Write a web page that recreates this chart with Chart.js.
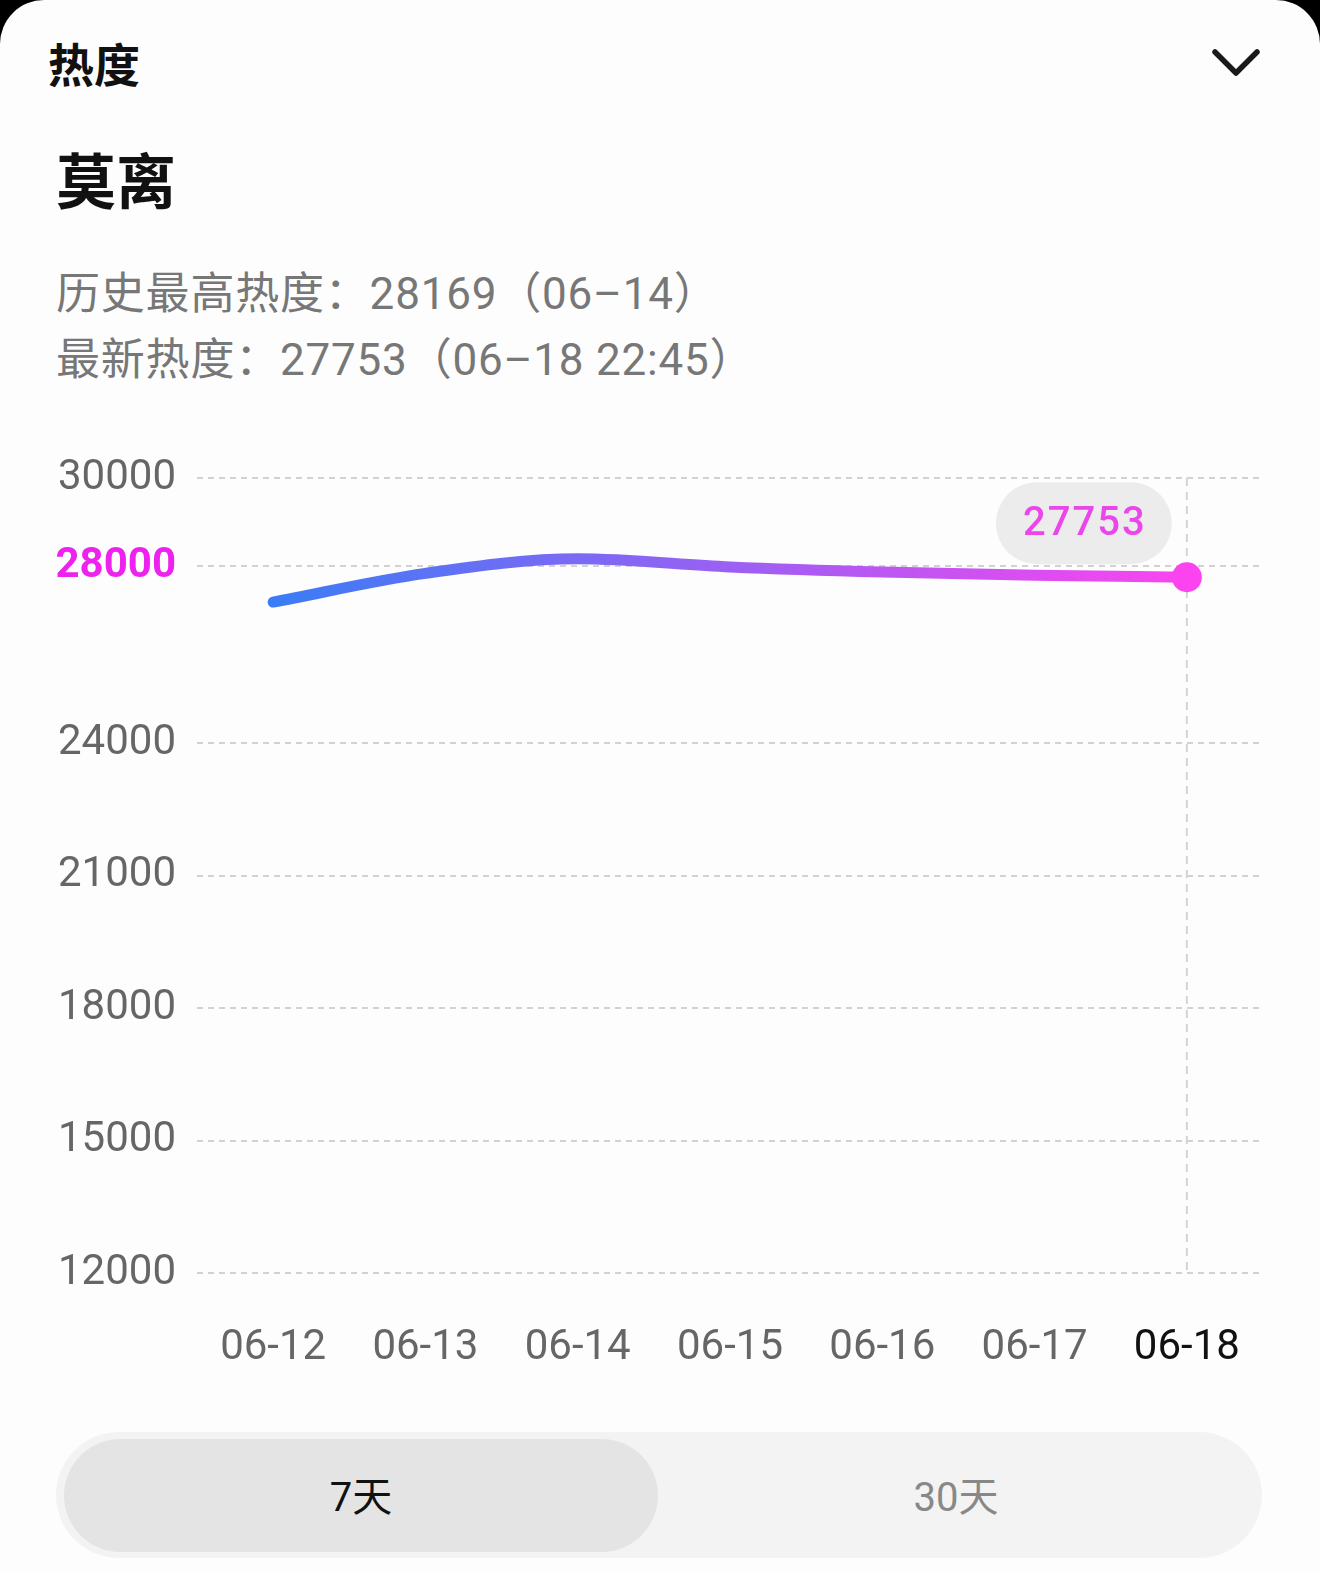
<!DOCTYPE html>
<html>
<head>
<meta charset="utf-8">
<script src="https://cdn.jsdelivr.net/npm/chart.js@4.4.0/dist/chart.umd.min.js"></script>
<style>
  html, body { margin: 0; padding: 0; background: #000; }
  #card {
    position: relative; width: 1320px; height: 1572px; background: #fdfdfd;
    border-radius: 44px 44px 0 0; overflow: hidden;
    font-family: Roboto, "Noto Sans CJK SC", sans-serif;
  }
  .abs { position: absolute; white-space: nowrap; }
  #section { left: 48px; top: 29px; font-size: 46px; font-weight: 700; color: #111; font-family: "Noto Sans CJK SC", sans-serif; }
  #name { left: 56px; top: 134px; font-size: 60px; font-weight: 700; color: #111; font-family: "Noto Sans CJK SC", sans-serif; }
  .info { left: 56px; font-size: 44px; color: #777; line-height: 1; letter-spacing: 0.8px; }
  #info1 { top: 272px; }
  #info2 { top: 338px; }
  #chev { left: 1210px; top: 46px; }
  #chartWrap { left: 0; top: 420px; width: 1320px; height: 980px; }
  #seg { left: 56px; top: 1432px; width: 1206px; height: 126px; background: #f3f3f3; border-radius: 63px; }
  #segOn { left: 64px; top: 1439px; width: 594px; height: 113px; background: #e4e4e4; border-radius: 57px; }
  .segTxt { top: 1473px; font-size: 40px; line-height: 50px; text-align: center; }
  #t7 { left: 64px; width: 594px; color: #111; }
  #t30 { left: 658px; width: 596px; color: #888; }
</style>
</head>
<body>
<div id="card">
  <div id="section" class="abs">热度</div>
  <svg id="chev" class="abs" width="52" height="34" viewBox="0 0 52 34">
    <polyline points="5,6 26,27 47,6" fill="none" stroke="#1a1a1a" stroke-width="5.5" stroke-linecap="round" stroke-linejoin="round"/>
  </svg>
  <div id="name" class="abs">莫离</div>
  <div id="info1" class="abs info">历史最高热度：28169（06–14）</div>
  <div id="info2" class="abs info">最新热度：27753（06–18 22:45）</div>
  <div id="chartWrap" class="abs"><canvas id="chart" width="1320" height="980"></canvas></div>
  <div id="seg" class="abs"></div>
  <div id="segOn" class="abs"></div>
  <div id="t7" class="abs segTxt">7天</div>
  <div id="t30" class="abs segTxt">30天</div>
</div>
<script>
const days = ['06-12', '06-13', '06-14', '06-15', '06-16', '06-17', '06-18'];
const heat = [27190, 27840, 28169, 27985, 27870, 27800, 27753];
const yTicks = [12000, 15000, 18000, 21000, 24000, 28000, 30000];
const markTick = 28000;

const MAGENTA = '#ee22ee';
const LINE_START = '#3b7cf6';
const LINE_END = '#fb44f0';

function lineGradient(context) {
  const chart = context.chart;
  const { ctx, chartArea, scales } = chart;
  if (!chartArea) return LINE_START;
  const x0 = scales.x.getPixelForValue(0);
  const x1 = scales.x.getPixelForValue(days.length - 1);
  const g = ctx.createLinearGradient(x0, 0, x1, 0);
  g.addColorStop(0, LINE_START);
  g.addColorStop(1, LINE_END);
  return g;
}

// dashed guide at the latest point + value bubble
const latestMarker = {
  id: 'latestMarker',
  beforeDatasetsDraw(chart) {
    const { ctx, chartArea, scales } = chart;
    const x = scales.x.getPixelForValue(days.length - 1);
    ctx.save();
    ctx.strokeStyle = '#d4d4d4';
    ctx.lineWidth = 2;
    ctx.setLineDash([8, 6]);
    ctx.beginPath();
    ctx.moveTo(x, chartArea.top);
    ctx.lineTo(x, chartArea.bottom);
    ctx.stroke();
    ctx.restore();
  },
  afterDatasetsDraw(chart) {
    const { ctx, scales } = chart;
    const last = heat.length - 1;
    const px = scales.x.getPixelForValue(last);
    const py = scales.y.getPixelForValue(heat[last]);
    const w = 176, h = 82, r = 41;
    const right = px - 15;
    const left = right - w;
    const top = py - 54 - h / 2;
    ctx.save();
    ctx.fillStyle = '#ececec';
    ctx.beginPath();
    ctx.roundRect(left, top, w, h, r);
    ctx.fill();
    ctx.fillStyle = '#ea46ea';
    ctx.font = '500 40px Roboto';
    ctx.letterSpacing = '2px';
    ctx.textAlign = 'center';
    ctx.textBaseline = 'middle';
    ctx.fillText(String(heat[last]), left + w / 2 + 1, top + h / 2 + 2);
    ctx.restore();
  }
};

new Chart(document.getElementById('chart'), {
  type: 'line',
  data: {
    labels: days,
    datasets: [{
      data: heat,
      borderColor: lineGradient,
      borderWidth: 11,
      borderCapStyle: 'round',
      cubicInterpolationMode: 'monotone',
      pointRadius: (c) => (c.dataIndex === heat.length - 1 ? 15 : 0),
      pointHoverRadius: 0,
      pointBorderWidth: 0,
      pointBackgroundColor: LINE_END,
      fill: false,
    }],
  },
  options: {
    responsive: false,
    devicePixelRatio: 1,
    animation: false,
    events: [],
    layout: { padding: { top: 58, right: 57, left: 0, bottom: 0 } },
    plugins: { legend: { display: false }, tooltip: { enabled: false } },
    scales: {
      x: {
        offset: true,
        grid: { display: false },
        border: { display: false },
        afterFit: (scale) => { scale.height = 127; },
        ticks: {
          padding: 42,
          font: { family: 'Roboto', size: 42 },
          color: (c) => (c.index === days.length - 1 ? '#111' : '#666'),
        },
      },
      y: {
        min: 12000,
        max: 30000,
        afterBuildTicks: (axis) => { axis.ticks = yTicks.map((v) => ({ value: v })); },
        afterFit: (scale) => { scale.width = 197; },
        border: { display: false, dash: [6, 5] },
        grid: { color: '#d2d2d2', lineWidth: 2, drawTicks: false },
        ticks: {
          padding: 21,
          callback: (v) => String(v),
          font: (c) => ({ family: 'Roboto', size: 42, weight: c.tick && c.tick.value === markTick ? '700' : '400' }),
          color: (c) => (c.tick && c.tick.value === markTick ? MAGENTA : '#666'),
        },
      },
    },
  },
  plugins: [latestMarker],
});
</script>
</body>
</html>
